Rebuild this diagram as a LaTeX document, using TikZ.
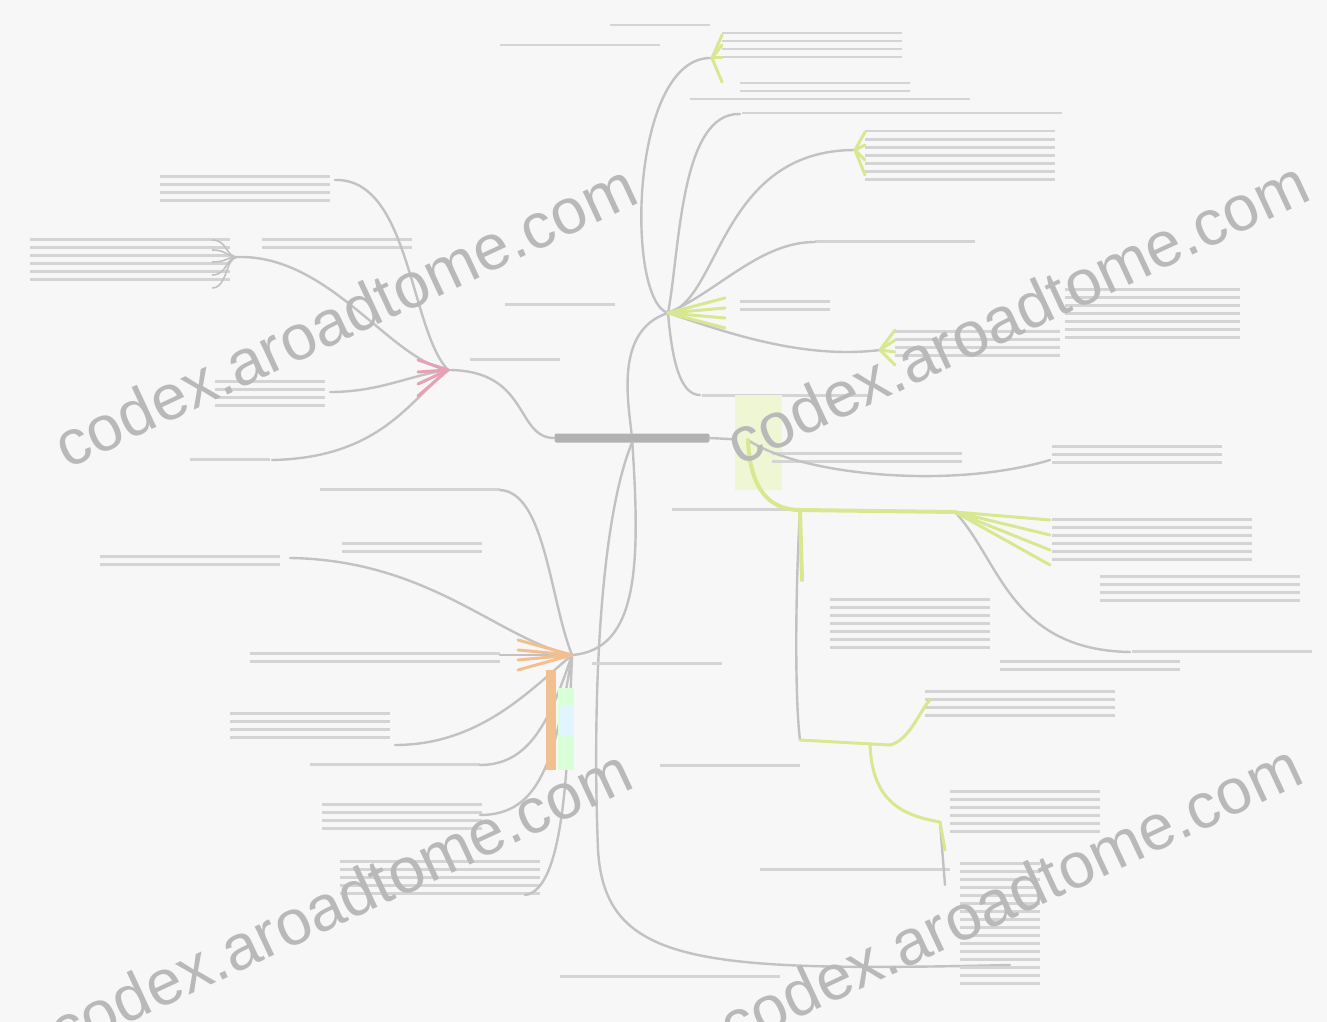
\documentclass[tikz,border=0pt]{standalone}
\usepackage{fontspec}
\newfontfamily\wmfont{Liberation Sans}
\usetikzlibrary{calc}
\definecolor{bg}{HTML}{F7F7F7}
\definecolor{hubpink}{HTML}{E8A0B4}
\definecolor{hubyel}{HTML}{D8E890}
\definecolor{hubora}{HTML}{F2C090}
\definecolor{wire}{HTML}{C2C2C2}
\definecolor{txtbar}{HTML}{D4D4D4}
\tikzset{
  link/.style={draw=wire, line width=2.4pt, line cap=round},
  fan/.style={line width=3pt, line cap=round},
  root/.style={fill=gray!60, minimum width=155pt, minimum height=9pt, inner sep=0pt, rounded corners=2pt},
  wm/.style={font=\wmfont\fontsize{64}{64}\selectfont, text=gray!55, rotate=25},
  pics/txt/.style 2 args={code={
    \foreach \k in {1,...,#2} {\fill[txtbar] (0,{(\k-1)*8}) rectangle ++(#1,2.5);}
  }}
}
\begin{document}
\begin{tikzpicture}[x=1pt, y=-1pt]
    \fill[bg] (0,0) rectangle (1327,1022);
    \useasboundingbox (0,0) rectangle (1327,1022);

    % centre and hubs
    \node[root] (root) at (632,438) {};
    \coordinate (hL) at (448,370);
    \coordinate (hU) at (668,313);
    \coordinate (hR) at (748,440);
    \coordinate (hD) at (572,655);

    \draw[link] (root.west) .. controls (515,438) and (530,370) .. (hL);
    \draw[link] (hU) .. controls (615,330) and (628,400) .. (root);
    \draw[link] (root) .. controls (640,560) and (640,650) .. (hD);
    \draw[link] (root.east) -- (hR);
    \coordinate (bEnd) at (1010,965);
    \draw[link] (root.south) .. controls (600,520) and (592,700) .. (598,850)
                .. controls (605,965) and (700,972) .. (bEnd);

    % pink branch
    \coordinate (l1) at (335,180);
    \coordinate (l2) at (238,257);
    \coordinate (l3) at (272,460);
    \coordinate (l4) at (330,392);
    \pic at (330,175) {txt={-170}{4}};
    \pic at (230,238) {txt={-200}{6}};
    \pic at (262,238) {txt={150}{2}};
    \pic at (325,380) {txt={-110}{4}};
    \pic at (270,458) {txt={-80}{1}};
    \pic at (470,358) {txt={90}{1}};
    \draw[link] (l1) .. controls (410,178) and (410,330) .. (hL);
    \draw[link] (l2) .. controls (330,255) and (390,360) .. (hL);
    \draw[link] (l4) .. controls (380,392) and (410,375) .. (hL);
    \draw[link] (l3) .. controls (380,458) and (410,400) .. (hL);
    \foreach \y in {240,250,262,275,288}
      \draw[wire, line width=1.6pt] (l2) .. controls (225,257) and (228,\y) .. (212,\y);
    \foreach \y in {360,372,384,396}
      \draw[fan, hubpink] (hL) -- (418,\y);

    % upper yellow branch
    \coordinate (uA) at (712,58);
    \coordinate (uB) at (740,114);
    \coordinate (uC) at (855,150);
    \coordinate (uD) at (815,242);
    \coordinate (uE) at (880,350);
    \coordinate (uF) at (700,395);
    \pic at (722,32) {txt={180}{4}};
    \pic at (740,82) {txt={170}{2}};
    \pic at (500,44) {txt={160}{1}};
    \pic at (610,24) {txt={100}{1}};
    \pic at (690,98) {txt={280}{1}};
    \pic at (742,112) {txt={320}{1}};
    \pic at (865,130) {txt={190}{7}};
    \pic at (815,240) {txt={160}{1}};
    \pic at (740,300) {txt={90}{2}};
    \pic at (1065,288) {txt={175}{7}};
    \pic at (895,330) {txt={165}{4}};
    \pic at (702,394) {txt={170}{1}};
    \pic at (505,303) {txt={110}{1}};
    \draw[link] (hU) .. controls (625,300) and (630,55) .. (uA);
    \draw[link] (hU) .. controls (680,250) and (680,112) .. (uB);
    \draw[link] (hU) .. controls (720,300) and (720,150) .. (uC);
    \draw[link] (hU) .. controls (720,290) and (760,242) .. (uD);
    \draw[link] (hU) .. controls (720,330) and (800,360) .. (uE);
    \draw[link] (hU) .. controls (672,360) and (680,395) .. (uF);
    \foreach \y in {35,45,58,82}
      \draw[fan, hubyel] (uA) -- (722,\y);
    \foreach \y in {132,145,160,175}
      \draw[fan, hubyel] (uC) -- (865,\y);
    \foreach \y in {330,340,352,365}
      \draw[fan, hubyel] (uE) -- (895,\y);
    \foreach \y in {298,308,318,328}
      \draw[fan, hubyel] (hU) -- (725,\y);

    % right yellow branch
    \coordinate (rA) at (800,510);
    \coordinate (rB) at (955,512);
    \coordinate (rC) at (1130,652);
    \coordinate (rD) at (800,740);
    \coordinate (rE) at (890,745);
    \coordinate (rK) at (870,744);
    \coordinate (rF) at (940,822);
    \coordinate (rG) at (945,885);
    \coordinate (r1) at (1050,460);
    \fill[hubyel!40] (735,395) rectangle (782,490);
    \pic at (772,452) {txt={190}{2}};
    \pic at (1052,445) {txt={170}{3}};
    \pic at (672,508) {txt={125}{1}};
    \pic at (1052,518) {txt={200}{6}};
    \pic at (1100,575) {txt={200}{4}};
    \pic at (1132,650) {txt={180}{1}};
    \pic at (830,598) {txt={160}{7}};
    \pic at (925,690) {txt={190}{4}};
    \pic at (1000,660) {txt={180}{2}};
    \pic at (660,764) {txt={140}{1}};
    \pic at (950,790) {txt={150}{6}};
    \pic at (760,868) {txt={190}{1}};
    \pic at (960,862) {txt={80}{16}};
    \draw[link] (hR) .. controls (800,475) and (950,490) .. (r1);
    \draw[link] (rB) .. controls (1000,560) and (1010,650) .. (rC);
    \draw[link] (rA) .. controls (795,600) and (795,700) .. (rD);
    \draw[link] (rF) -- (rG);
    \draw[fan, hubyel, line width=4pt] (hR) .. controls (750,490) and (770,510) .. (rA);
    \draw[fan, hubyel, line width=4pt] (rA) -- (rB);
    \draw[fan, hubyel, line width=4pt] (rA) -- (802,580);
    \draw[fan, hubyel] (rD) -- (rE);
    \draw[fan, hubyel] (rE) .. controls (910,740) and (920,710) .. (930,700);
    \draw[fan, hubyel] (rK) .. controls (872,800) and (900,815) .. (rF);
    \draw[fan, hubyel] (rF) -- (945,850);
    \foreach \y in {520,535,550,565}
      \draw[fan, hubyel] (rB) -- (1050,\y);

    % orange branch
    \coordinate (d1) at (500,490);
    \coordinate (d2) at (290,558);
    \coordinate (d3) at (500,655);
    \coordinate (d4) at (395,745);
    \coordinate (d5) at (480,765);
    \coordinate (d6) at (480,815);
    \coordinate (d7) at (525,895);
    \pic at (320,488) {txt={180}{1}};
    \pic at (100,555) {txt={180}{2}};
    \pic at (342,542) {txt={140}{2}};
    \pic at (250,652) {txt={250}{2}};
    \pic at (230,712) {txt={160}{4}};
    \pic at (310,763) {txt={170}{1}};
    \pic at (322,803) {txt={160}{4}};
    \pic at (340,860) {txt={200}{5}};
    \pic at (592,662) {txt={130}{1}};
    \pic at (560,975) {txt={220}{1}};
    \draw[link] (hD) .. controls (550,600) and (545,492) .. (d1);
    \draw[link] (hD) .. controls (500,640) and (430,560) .. (d2);
    \draw[link] (hD) -- (d3);
    \draw[link] (hD) .. controls (530,690) and (480,745) .. (d4);
    \draw[link] (hD) .. controls (550,720) and (530,765) .. (d5);
    \draw[link] (hD) .. controls (555,760) and (540,815) .. (d6);
    \draw[link] (hD) .. controls (568,760) and (565,890) .. (d7);
    \fill[hubora] (546,670) rectangle (556,770);
    \fill[green!15] (558,688) rectangle (574,770);
    \fill[cyan!12] (560,705) rectangle (574,735);
    \foreach \y in {640,650,660,670}
      \draw[fan, hubora] (hD) -- (518,\y);

    % watermarks
    \node[wm] (wm1) at (345,315) {codex.aroadtome.com};
    \node[wm] (wm2) at (1017,312) {codex.aroadtome.com};
    \node[wm] (wm3) at (340,900) {codex.aroadtome.com};
    \node[wm] (wm4) at (1010,895) {codex.aroadtome.com};
\end{tikzpicture}
\end{document}
